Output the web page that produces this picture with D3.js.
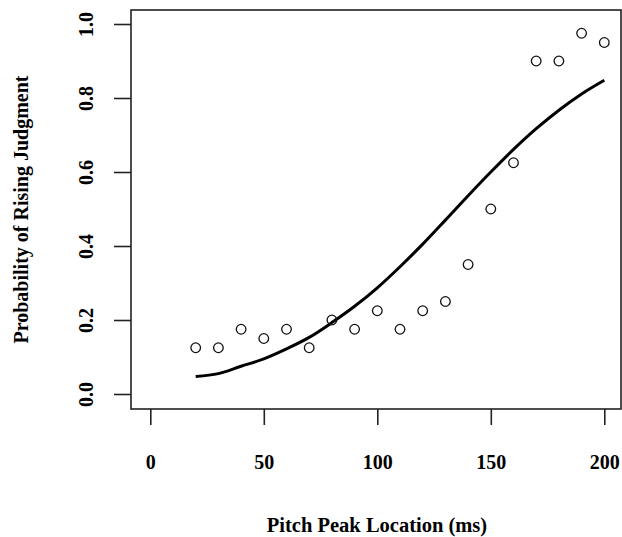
<!DOCTYPE html>
<html>
<head>
<meta charset="utf-8">
<script src="https://cdn.jsdelivr.net/npm/d3@7"></script>
<style>
  html, body { margin: 0; padding: 0; background: #fff; }
  svg { display: block; }
  text { font-family: "Liberation Serif", "Times New Roman", serif; font-weight: bold; fill: #000; }
</style>
</head>
<body>
<svg id="chart" width="622" height="537"></svg>
<script>
// Observed points
const peakLocations = [20, 30, 40, 50, 60, 70, 80, 90, 100, 110, 120, 130, 140, 150, 160, 170, 180, 190, 200];
const risingProb = [0.125, 0.125, 0.175, 0.15, 0.175, 0.125, 0.2, 0.175, 0.225, 0.175, 0.225, 0.25, 0.35, 0.5, 0.625, 0.9, 0.9, 0.975, 0.95];
// Fitted curve
const curveX = [20, 30, 40, 50, 60, 70, 80, 90, 100, 110, 120, 130, 140, 150, 160, 170, 180, 190, 200];
const curveY = [0.047, 0.055, 0.075, 0.095, 0.122, 0.153, 0.193, 0.237, 0.287, 0.344, 0.405, 0.470, 0.536, 0.600, 0.661, 0.717, 0.767, 0.811, 0.848];
// Ticks
const xTicks = [0, 50, 100, 150, 200];
const yTicks = [0.0, 0.2, 0.4, 0.6, 0.8, 1.0];
const xTitle = "Pitch Peak Location (ms)";
const yTitle = "Probability of Rising Judgment";

const svg = d3.select("#chart");
const box = { left: 131, right: 621, top: 10, bottom: 409 };

const x = d3.scaleLinear().domain([0, 200]).range([150.3, 604.3]);
const y = d3.scaleLinear().domain([0, 1]).range([394, 24]);

// Frame
svg.append("rect")
  .attr("x", box.left).attr("y", box.top)
  .attr("width", box.right - box.left).attr("height", box.bottom - box.top)
  .attr("fill", "none").attr("stroke", "#222").attr("stroke-width", 1.6);

// X axis
const gx = svg.append("g")
  .attr("transform", `translate(0,${box.bottom})`)
  .call(d3.axisBottom(x).tickValues(xTicks).tickSize(16).tickSizeOuter(0).tickFormat(d3.format("d")));
gx.select(".domain").remove();
gx.selectAll(".tick line").attr("stroke", "#222").attr("stroke-width", 1.6);
gx.selectAll(".tick text")
  .attr("y", 60).attr("dy", 0)
  .style("font-size", "20px")
  .style("font-family", "'Liberation Serif', serif")
  .style("font-weight", "bold")
  .attr("fill", "#000");

// Y axis
const gy = svg.append("g")
  .attr("transform", `translate(${box.left},0)`)
  .call(d3.axisLeft(y).tickValues(yTicks).tickSize(17).tickSizeOuter(0).tickFormat(d3.format(".1f")));
gy.select(".domain").remove();
gy.selectAll(".tick line").attr("stroke", "#222").attr("stroke-width", 1.6);
gy.selectAll(".tick text")
  .attr("transform", "rotate(-90)")
  .attr("x", 0).attr("y", -38).attr("dy", 0)
  .attr("text-anchor", "middle")
  .style("font-size", "20px")
  .style("font-family", "'Liberation Serif', serif")
  .style("font-weight", "bold")
  .attr("fill", "#000");

// Titles
svg.append("text")
  .attr("x", 377).attr("y", 532)
  .attr("text-anchor", "middle")
  .style("font-size", "20.5px")
  .text(xTitle);

svg.append("text")
  .attr("transform", "translate(27.5,209.5) rotate(-90)")
  .attr("text-anchor", "middle")
  .style("font-size", "20px")
  .text(yTitle);

// Fitted curve
const curveData = curveX.map((d, i) => [d, curveY[i]]);
svg.append("path")
  .datum(curveData)
  .attr("fill", "none")
  .attr("stroke", "#000")
  .attr("stroke-width", 3)
  .attr("stroke-linejoin", "round")
  .attr("d", d3.line().x(d => x(d[0])).y(d => y(d[1])).curve(d3.curveMonotoneX));

// Points
const pts = peakLocations.map((d, i) => [d, risingProb[i]]);
svg.append("g").selectAll("circle")
  .data(pts).join("circle")
  .attr("cx", d => x(d[0])).attr("cy", d => y(d[1]))
  .attr("r", 4.8)
  .attr("fill", "none")
  .attr("stroke", "#111")
  .attr("stroke-width", 1.3);
</script>
</body>
</html>
